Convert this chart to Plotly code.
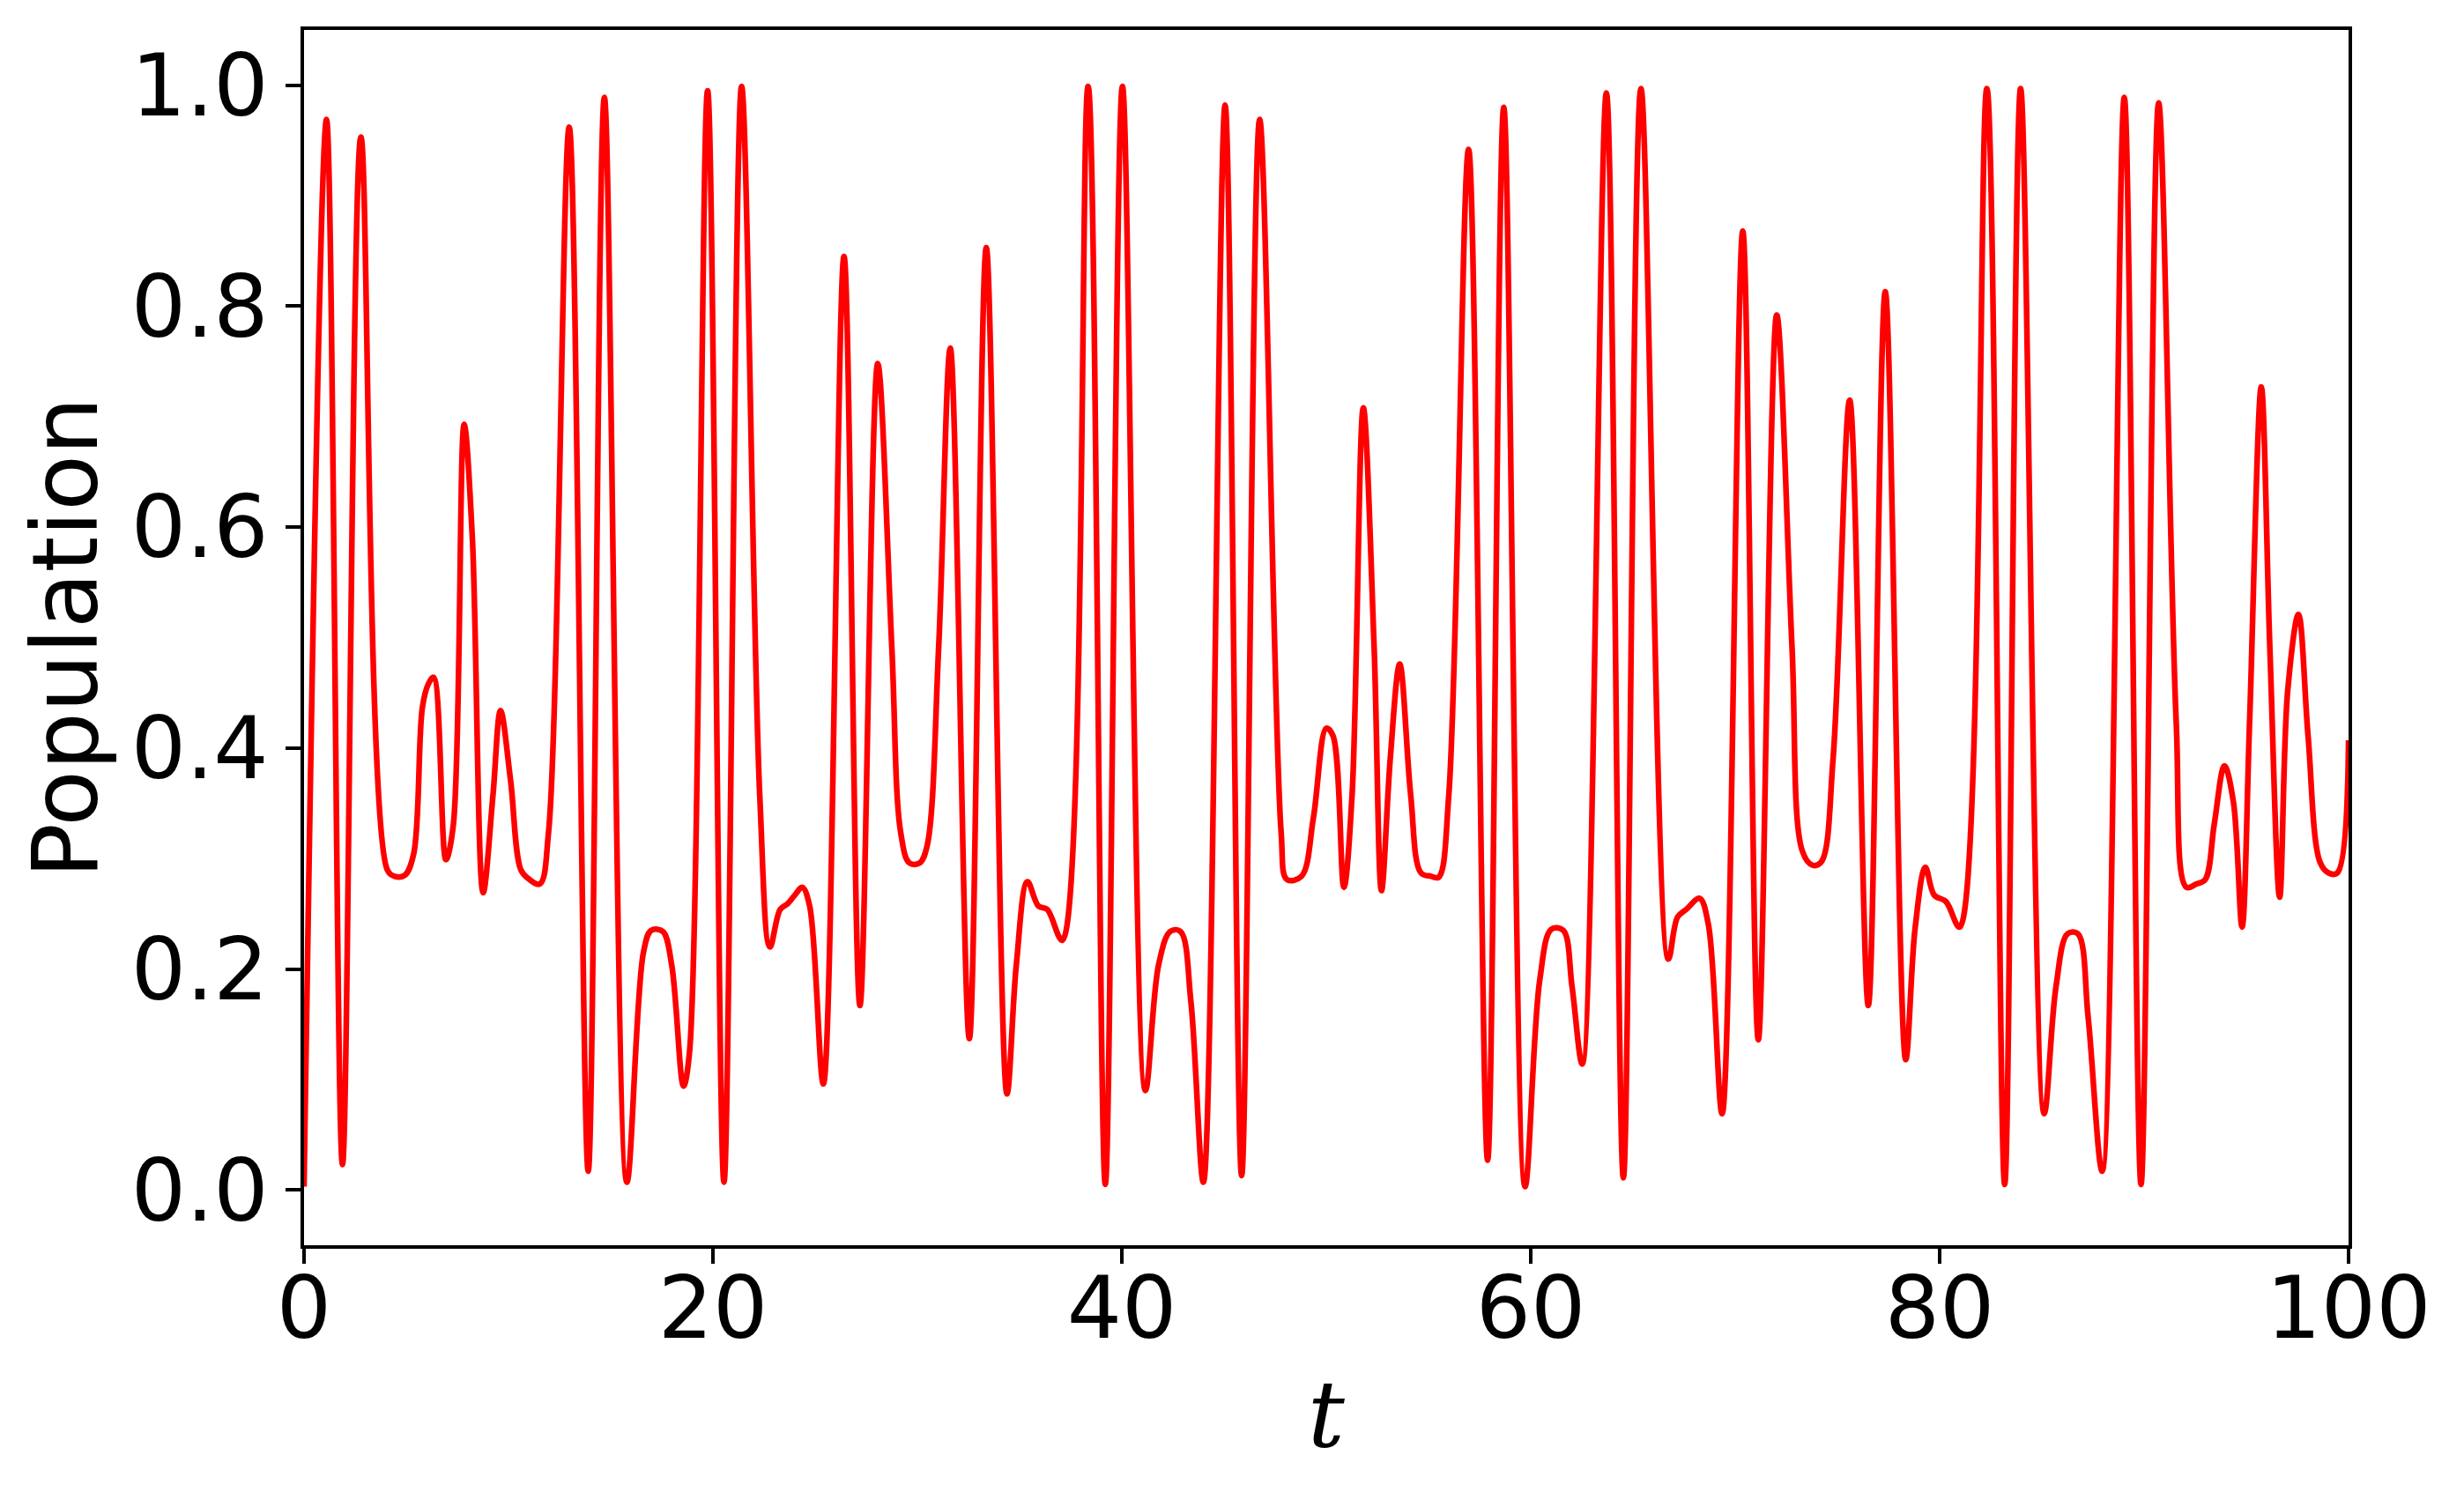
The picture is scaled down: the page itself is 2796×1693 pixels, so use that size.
import plotly.graph_objects as go

t_points = [0.00, 1.10, 1.88, 2.78, 4.07, 4.43, 4.93, 5.36, 5.79, 6.08, 6.34, 6.94, 7.30, 7.83, 8.23, 8.76,
            9.24, 9.61, 10.10, 10.60, 10.96, 11.53, 11.96, 12.97, 13.90, 14.69, 15.79, 16.60, 16.98, 17.55,
            17.98, 18.56, 18.85, 19.74, 20.54, 21.40, 22.29, 22.79, 23.29, 23.65, 24.01, 24.37, 24.73, 25.40,
            26.41, 27.19, 28.06, 28.75, 29.18, 29.61, 30.11, 30.47, 31.04, 31.61, 32.54, 33.37, 34.38, 34.84,
            35.38, 35.92, 36.35, 37.09, 38.35, 39.19, 40.03, 41.15, 41.80, 42.37, 42.87, 43.38, 43.99, 45.05,
            45.86, 46.74, 47.79, 48.08, 48.79, 49.37, 50.00, 50.33, 50.86, 51.26, 51.81, 52.34, 52.70, 53.13,
            53.59, 54.13, 54.63, 55.13, 55.49, 55.99, 56.96, 57.89, 58.68, 59.72, 60.44, 61.01, 61.59, 62.02,
            62.52, 63.70, 64.53, 65.39, 66.73, 67.18, 67.61, 68.26, 68.69, 69.36, 70.37, 71.13, 72.03, 72.78,
            73.28, 73.78, 74.21, 74.79, 75.60, 76.51, 77.34, 78.34, 78.80, 79.30, 79.73, 80.31, 80.98, 82.31,
            83.18, 83.96, 85.11, 85.69, 86.26, 86.76, 87.26, 87.95, 89.03, 89.85, 90.71, 91.57, 92.07, 92.56,
            92.99, 93.43, 93.93, 94.37, 94.79, 95.16, 95.73, 96.15, 96.63, 97.02, 97.55, 98.02, 98.60, 99.02,
            99.45, 100.00]

population = [0.003, 0.969, 0.023, 0.953, 0.290, 0.284, 0.285, 0.304, 0.437, 0.458, 0.464, 0.299, 0.330, 0.693,
              0.591, 0.269, 0.357, 0.434, 0.371, 0.290, 0.282, 0.277, 0.324, 0.962, 0.017, 0.989, 0.007, 0.215,
              0.235, 0.234, 0.204, 0.094, 0.124, 0.995, 0.007, 0.999, 0.357, 0.220, 0.254, 0.259, 0.267, 0.274,
              0.257, 0.096, 0.845, 0.167, 0.748, 0.491, 0.324, 0.296, 0.296, 0.311, 0.491, 0.762, 0.137, 0.853,
              0.087, 0.204, 0.279, 0.257, 0.254, 0.226, 0.999, 0.005, 0.999, 0.090, 0.204, 0.234, 0.234, 0.170,
              0.007, 0.982, 0.013, 0.969, 0.324, 0.281, 0.284, 0.337, 0.418, 0.411, 0.274, 0.357, 0.708, 0.491,
              0.271, 0.391, 0.476, 0.357, 0.287, 0.284, 0.283, 0.357, 0.942, 0.027, 0.980, 0.003, 0.190, 0.236,
              0.235, 0.184, 0.114, 0.993, 0.011, 0.997, 0.209, 0.247, 0.254, 0.264, 0.240, 0.069, 0.868, 0.136,
              0.792, 0.491, 0.307, 0.294, 0.297, 0.391, 0.715, 0.167, 0.813, 0.118, 0.237, 0.292, 0.267, 0.261,
              0.238, 0.997, 0.005, 0.997, 0.069, 0.184, 0.232, 0.232, 0.157, 0.017, 0.989, 0.005, 0.984, 0.424,
              0.274, 0.277, 0.281, 0.331, 0.384, 0.351, 0.238, 0.424, 0.727, 0.491, 0.265, 0.451, 0.521, 0.411,
              0.297, 0.287, 0.287, 0.407]

x_ticks = [0, 20, 40, 60, 80, 100]
y_ticks = [0.0, 0.2, 0.4, 0.6, 0.8, 1.0]
y_tick_labels = ["0.0", "0.2", "0.4", "0.6", "0.8", "1.0"]

fig = go.Figure()
fig.add_trace(go.Scatter(
    x=t_points, y=population, mode="lines",
    line=dict(color="#ff0000", width=6.5, shape="spline", smoothing=1.0),
    showlegend=False, hoverinfo="skip",
))

axis_common = dict(
    showgrid=False, zeroline=False, showline=True, mirror=True,
    linecolor="black", linewidth=3.5,
    ticks="outside", ticklen=17, tickwidth=3.5, tickcolor="black",
    tickfont=dict(family="DejaVu Sans", size=98, color="black"),
)

fig.update_layout(
    width=2796, height=1693,
    paper_bgcolor="white", plot_bgcolor="white",
    margin=dict(l=337, r=139, t=26, b=288),
    xaxis=dict(range=[0, 100], tickvals=x_ticks, ticktext=[str(v) for v in x_ticks],
               ticklabelstandoff=-33,
               title=dict(text="<i>t</i>", font=dict(family="DejaVu Serif", size=104, color="black"), standoff=30),
               **axis_common),
    yaxis=dict(range=[-0.05, 1.05], tickvals=y_ticks, ticktext=y_tick_labels,
               title=dict(text="Population", font=dict(family="DejaVu Sans", size=104, color="black"), standoff=4),
               **axis_common),
)

fig.write_html("out.html")
